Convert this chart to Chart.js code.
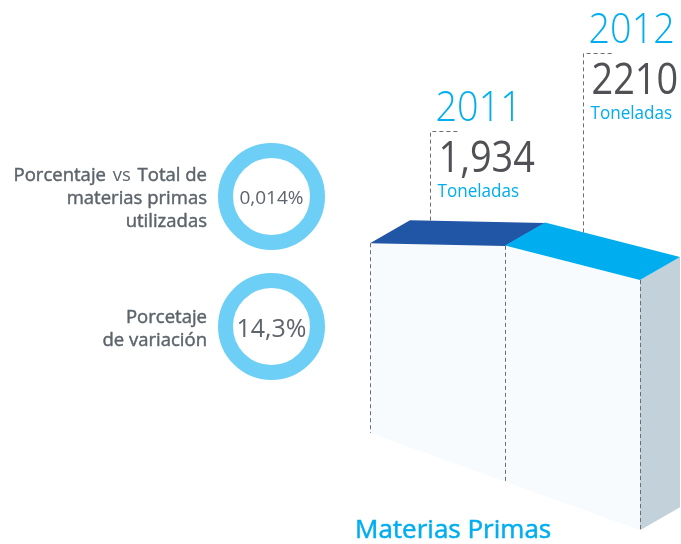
<!DOCTYPE html>
<html>
<head>
<meta charset="utf-8">
<script src="https://cdn.jsdelivr.net/npm/chart.js@4.4.1/dist/chart.umd.min.js"></script>
<style>
  html, body { margin: 0; padding: 0; background: #fff; }
  #wrap { position: relative; width: 681px; height: 544px; overflow: hidden; }
  #chart-canvas { position: absolute; left: 0; top: 0; }
  .caption {
    position: absolute; right: 474px; text-align: right;
    font-family: "Open Sans", sans-serif; font-weight: 400; font-size: 18.5px;
    -webkit-text-stroke: 0.45px #5d646b;
    line-height: 23px; color: #5d646b; white-space: nowrap;
  }
  .caption .vs { -webkit-text-stroke: 0; margin: 0 2px; }
  .ring {
    position: absolute; left: 218px; width: 77px; height: 77px;
    border: 15px solid #6dcff6; border-radius: 50%;
    display: flex; align-items: center; justify-content: center;
    font-family: "Open Sans", sans-serif; color: #5d646b;
  }
  .title {
    position: absolute; left: 355px; top: 510px;
    font-family: "Open Sans", sans-serif; font-weight: 400; font-size: 26px;
    -webkit-text-stroke: 0.5px #00aeef;
    color: #00aeef; white-space: nowrap;
  }
</style>
</head>
<body>
<div id="wrap">
  <canvas id="chart-canvas" width="681" height="544"></canvas>
  <div class="title">Materias Primas</div>
</div>
<script>
// data
const years = ["2011", "2012"];
const tonnes = [1934, 2210];
const valueLabels = ["1,934", "2210"];
const unitLabel = "Toneladas";

const statValues = ["0,014%", "14,3%"];
const statCaptions = [
  ["Porcentaje <span class=\"vs\">vs</span> Total de", "materias primas", "utilizadas"],
  ["Porcetaje", "de variación"],
];

// left side stats
const wrap = document.getElementById("wrap");
const statTops = [143, 273];
const captionTops = [162, 304];
const statFont = [19, 25];
statValues.forEach((v, i) => {
  const ring = document.createElement("div");
  ring.className = "ring";
  ring.style.top = statTops[i] + "px";
  ring.style.fontSize = statFont[i] + "px";
  ring.textContent = v;
  wrap.appendChild(ring);

  const cap = document.createElement("div");
  cap.className = "caption";
  cap.style.top = captionTops[i] + "px";
  cap.innerHTML = statCaptions[i].join("<br>");
  wrap.appendChild(cap);
});

// squeeze text a bit, the original face is narrower than Open Sans
function narrowText(ctx, text, x, y, squeeze) {
  const w = ctx.measureText(text).width;
  ctx.fillText(text, x, y, w * squeeze);
}

// pseudo 3d block drawn from the bar elements
const blockPlugin = {
  id: "block3d",
  afterDatasetsDraw(chart, args, opts) {
    const ctx = chart.ctx;
    const bars = chart.getDatasetMeta(0).data;
    const x0 = chart.chartArea.left;
    const zero = chart.scales.y.getPixelForValue(0);
    const baseAt = (x) => zero + opts.shear * (x - x0);
    const dx = opts.depth[0], dy = opts.depth[1];

    const pts = bars.map((bar, i) => {
      const h = bar.base - bar.y;
      const xl = bar.x - bar.width / 2, xr = bar.x + bar.width / 2;
      const t = opts.tilt[i];
      return { xl, xr, yl: baseAt(xl) - h * (1 - t), yr: baseAt(xr) - h * (1 + t) };
    });
    const first = pts[0], last = pts[pts.length - 1];

    ctx.save();
    // front face
    ctx.beginPath();
    ctx.moveTo(first.xl, first.yl);
    pts.forEach((p) => ctx.lineTo(p.xr, p.yr));
    ctx.lineTo(last.xr, baseAt(last.xr));
    ctx.lineTo(first.xl, baseAt(first.xl));
    ctx.closePath();
    ctx.fillStyle = opts.frontColor;
    ctx.fill();

    // side face
    ctx.beginPath();
    ctx.moveTo(last.xr, last.yr);
    ctx.lineTo(last.xr + dx, last.yr + dy);
    ctx.lineTo(last.xr + dx, baseAt(last.xr) + dy);
    ctx.lineTo(last.xr, baseAt(last.xr));
    ctx.closePath();
    ctx.fillStyle = opts.sideColor;
    ctx.fill();

    // top faces
    pts.forEach((p, i) => {
      ctx.beginPath();
      ctx.moveTo(p.xl, p.yl);
      ctx.lineTo(p.xl + dx, p.yl + dy);
      ctx.lineTo(p.xr + dx, p.yr + dy);
      ctx.lineTo(p.xr, p.yr);
      ctx.closePath();
      ctx.fillStyle = opts.topColors[i];
      ctx.fill();
    });

    // dashed edges
    ctx.setLineDash([4, 3]);
    ctx.strokeStyle = opts.dashColor;
    ctx.lineWidth = 1;
    const edges = [[first.xl, first.yl]].concat(pts.map((p) => [p.xr, p.yr]));
    edges.forEach(([x, y]) => {
      const xx = Math.round(x) + 0.5;
      ctx.beginPath();
      ctx.moveTo(xx, y);
      ctx.lineTo(xx, baseAt(x));
      ctx.stroke();
    });

    // leaders and labels
    pts.forEach((p, i) => {
      const bxl = p.xl + dx, bxr = p.xr + dx;
      const lx = Math.round(bxl + opts.anchor[i] * (bxr - bxl)) + 0.5;
      const backY = p.yl + dy + (p.yr - p.yl) * (lx - bxl) / (bxr - bxl);
      const top = opts.labelTops[i];
      ctx.setLineDash([4, 3]);
      ctx.beginPath();
      ctx.moveTo(lx, backY);
      ctx.lineTo(lx, top + 0.5);
      ctx.lineTo(lx + 29, top + 0.5);
      ctx.stroke();

      ctx.textBaseline = "alphabetic";
      ctx.textAlign = "left";
      ctx.fillStyle = "#00aeef";
      ctx.font = "300 42px 'Open Sans'";
      narrowText(ctx, years[i], lx + 5, top - 10, 0.9);
      ctx.fillStyle = "#505154";
      ctx.font = "400 43px 'Open Sans'";
      narrowText(ctx, valueLabels[i], lx + 8, top + 41, 0.88);
      ctx.fillStyle = "#00aeef";
      ctx.font = "400 19px 'Open Sans'";
      narrowText(ctx, unitLabel, lx + 7, top + 66, 0.9);
    });
    ctx.restore();
  },
};

const config = {
  type: "bar",
  data: {
    labels: years,
    datasets: [
      {
        label: "Toneladas",
        data: tonnes,
        backgroundColor: "rgba(0,0,0,0)",
        categoryPercentage: 1,
        barPercentage: 1,
      },
    ],
  },
  options: {
    responsive: false,
    animation: false,
    events: [],
    layout: { padding: { left: 370, right: 41, top: 158, bottom: 111 } },
    scales: {
      x: { display: false },
      y: { display: false, min: 0, max: 2500 },
    },
    plugins: {
      legend: { display: false },
      tooltip: { enabled: false },
      block3d: {
        shear: 0.36,
        depth: [40, -23],
        tilt: [0.108, 0.029],
        anchor: [0.15, 0.28],
        labelTops: [131, 53],
        frontColor: "#f7fbfe",
        sideColor: "#c3d1da",
        topColors: ["#2155a5", "#00adef"],
        dashColor: "#6d6e71",
      },
    },
  },
  plugins: [blockPlugin],
};

const myChart = new Chart(document.getElementById("chart-canvas"), config);
</script>
</body>
</html>
